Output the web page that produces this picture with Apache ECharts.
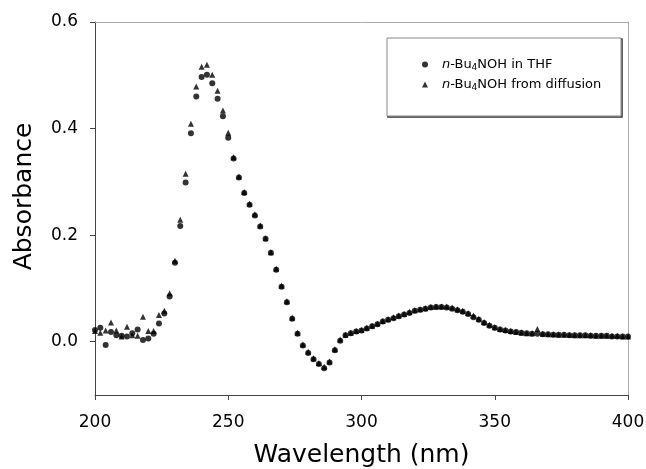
<!DOCTYPE html>
<html>
<head>
<meta charset="utf-8">
<script src="https://cdn.jsdelivr.net/npm/echarts@6/dist/echarts.min.js"></script>
<style>
html,body{margin:0;padding:0;background:#fff;}
#c{width:646px;height:469px;}
</style>
</head>
<body>
<div id="c"></div>
<script>
// Wavelength (nm), 2 nm steps
const wavelengths = [];
for (let w = 200; w <= 400; w += 2) wavelengths.push(w);

// n-Bu4NOH in THF (circles)
const thfValues = [
  0.022, 0.026, -0.006, 0.018, 0.012, 0.011, 0.010, 0.016, 0.023, 0.003,
  0.006, 0.015, 0.034, 0.053, 0.085, 0.148, 0.217, 0.299, 0.391, 0.460,
  0.497, 0.501, 0.485, 0.456, 0.423, 0.383, 0.344, 0.308, 0.279, 0.257,
  0.237, 0.216, 0.193, 0.167, 0.135, 0.103, 0.074, 0.043, 0.015, -0.007,
  -0.021, -0.033, -0.042, -0.050, -0.039, -0.016, 0.002, 0.012, 0.016, 0.019,
  0.021, 0.025, 0.029, 0.033, 0.038, 0.041, 0.044, 0.048, 0.051, 0.054,
  0.058, 0.060, 0.062, 0.064, 0.065, 0.065, 0.064, 0.062, 0.059, 0.056,
  0.052, 0.046, 0.041, 0.035, 0.030, 0.026, 0.023, 0.021, 0.019, 0.018,
  0.017, 0.016, 0.015, 0.015, 0.014, 0.014, 0.013, 0.013, 0.013, 0.012,
  0.012, 0.012, 0.012, 0.011, 0.011, 0.011, 0.011, 0.010, 0.010, 0.010,
  0.010
];

// n-Bu4NOH from diffusion (triangles)
const diffValues = [
  0.020, 0.017, 0.021, 0.036, 0.021, 0.010, 0.028, 0.012, 0.011, 0.047,
  0.020, 0.020, 0.050, 0.058, 0.091, 0.152, 0.229, 0.315, 0.409, 0.479,
  0.516, 0.520, 0.501, 0.471, 0.434, 0.392, 0.346, 0.310, 0.281, 0.259,
  0.239, 0.218, 0.194, 0.168, 0.137, 0.105, 0.076, 0.045, 0.017, -0.005,
  -0.019, -0.031, -0.040, -0.047, -0.037, -0.014, 0.004, 0.013, 0.017, 0.020,
  0.022, 0.026, 0.030, 0.034, 0.039, 0.042, 0.046, 0.049, 0.052, 0.056,
  0.059, 0.061, 0.063, 0.065, 0.066, 0.066, 0.066, 0.064, 0.061, 0.058,
  0.054, 0.049, 0.043, 0.037, 0.032, 0.027, 0.024, 0.022, 0.020, 0.018,
  0.017, 0.016, 0.016, 0.024, 0.015, 0.014, 0.014, 0.013, 0.013, 0.013,
  0.012, 0.012, 0.012, 0.012, 0.011, 0.011, 0.011, 0.011, 0.011, 0.010,
  0.010
];

const yTicks = [0, 0.2, 0.4, 0.6];

const FONT = 'DejaVu Sans, sans-serif';
const thfData = wavelengths.map((w, i) => [w, thfValues[i]]);
const diffData = wavelengths.map((w, i) => [w, diffValues[i]]);

const chart = echarts.init(document.getElementById('c'), null, {renderer: 'canvas'});
const rich = {
  i: {fontStyle: 'italic', fontSize: 13, fontFamily: FONT, color: '#000'},
  t: {fontSize: 13, fontFamily: FONT, color: '#000'},
  s: {fontSize: 9, fontFamily: FONT, color: '#000', padding: [6, 0, 0, 0]}
};
chart.setOption({
  animation: false,
  backgroundColor: '#fff',
  grid: {left: 95, right: 18, top: 22, bottom: 74, containLabel: false, outerBoundsMode: 'none'},
  xAxis: [{
    type: 'value', min: 200, max: 400, interval: 50,
    name: 'Wavelength (nm)', nameLocation: 'middle', nameGap: 48,
    nameTextStyle: {fontSize: 25, fontFamily: FONT, color: '#000'},
    axisLine: {show: true, onZero: false, lineStyle: {color: '#444', width: 1}},
    axisTick: {show: true, inside: false, length: 5, lineStyle: {color: '#444'}},
    axisLabel: {fontSize: 17, fontFamily: FONT, color: '#000', margin: 19},
    splitLine: {show: false}
  }, {
    type: 'value', min: 200, max: 400, position: 'top',
    axisLine: {show: true, onZero: false, lineStyle: {color: '#aaa'}},
    axisTick: {show: false}, axisLabel: {show: false}, splitLine: {show: false}
  }],
  yAxis: [{
    type: 'value', min: -0.1, max: 0.6,
    name: 'Absorbance', nameLocation: 'middle', nameGap: 58,
    nameTextStyle: {fontSize: 25, fontFamily: FONT, color: '#000', padding: [0, 0, 0, 24]},
    axisLine: {show: true, onZero: false, lineStyle: {color: '#444', width: 1}},
    axisTick: {show: true, length: 5, customValues: yTicks, lineStyle: {color: '#444'}},
    axisLabel: {fontSize: 17, fontFamily: FONT, color: '#000', margin: 17,
      customValues: yTicks, formatter: v => v.toFixed(1)},
    splitLine: {show: false}
  }, {
    type: 'value', min: -0.1, max: 0.6, position: 'right',
    axisLine: {show: true, onZero: false, lineStyle: {color: '#aaa'}},
    axisTick: {show: false}, axisLabel: {show: false}, splitLine: {show: false}
  }],
  legend: {
    orient: 'vertical', left: 417, top: 53, itemGap: 6,
    itemWidth: 6, itemHeight: 6,
    data: [{name: 'THF', icon: 'circle'}, {name: 'diffusion', icon: 'triangle'}],
    formatter: name => name === 'THF'
      ? '{i|n}{t|-Bu}{s|4}{t|NOH in THF}'
      : '{i|n}{t|-Bu}{s|4}{t|NOH from diffusion}',
    textStyle: {fontSize: 13, fontFamily: FONT, color: '#000', padding: [0, 0, 0, 9], rich: rich}
  },
  graphic: [
    {type: 'rect', shape: {x: 388, y: 39, width: 234, height: 78},
     style: {fill: 'none', stroke: '#333', lineWidth: 1.5}, z: 1},
    {type: 'rect', shape: {x: 387, y: 38, width: 234, height: 78},
     style: {fill: '#fff', stroke: '#888', lineWidth: 1}, z: 2}
  ],
  series: [{
    name: 'diffusion', type: 'scatter', symbol: 'triangle', symbolSize: 6,
    itemStyle: {color: '#000'}, data: diffData, z: 3
  }, {
    name: 'THF', type: 'scatter', symbol: 'circle', symbolSize: 6,
    itemStyle: {color: '#000'}, data: thfData, z: 4
  }]
});
</script>
</body>
</html>
